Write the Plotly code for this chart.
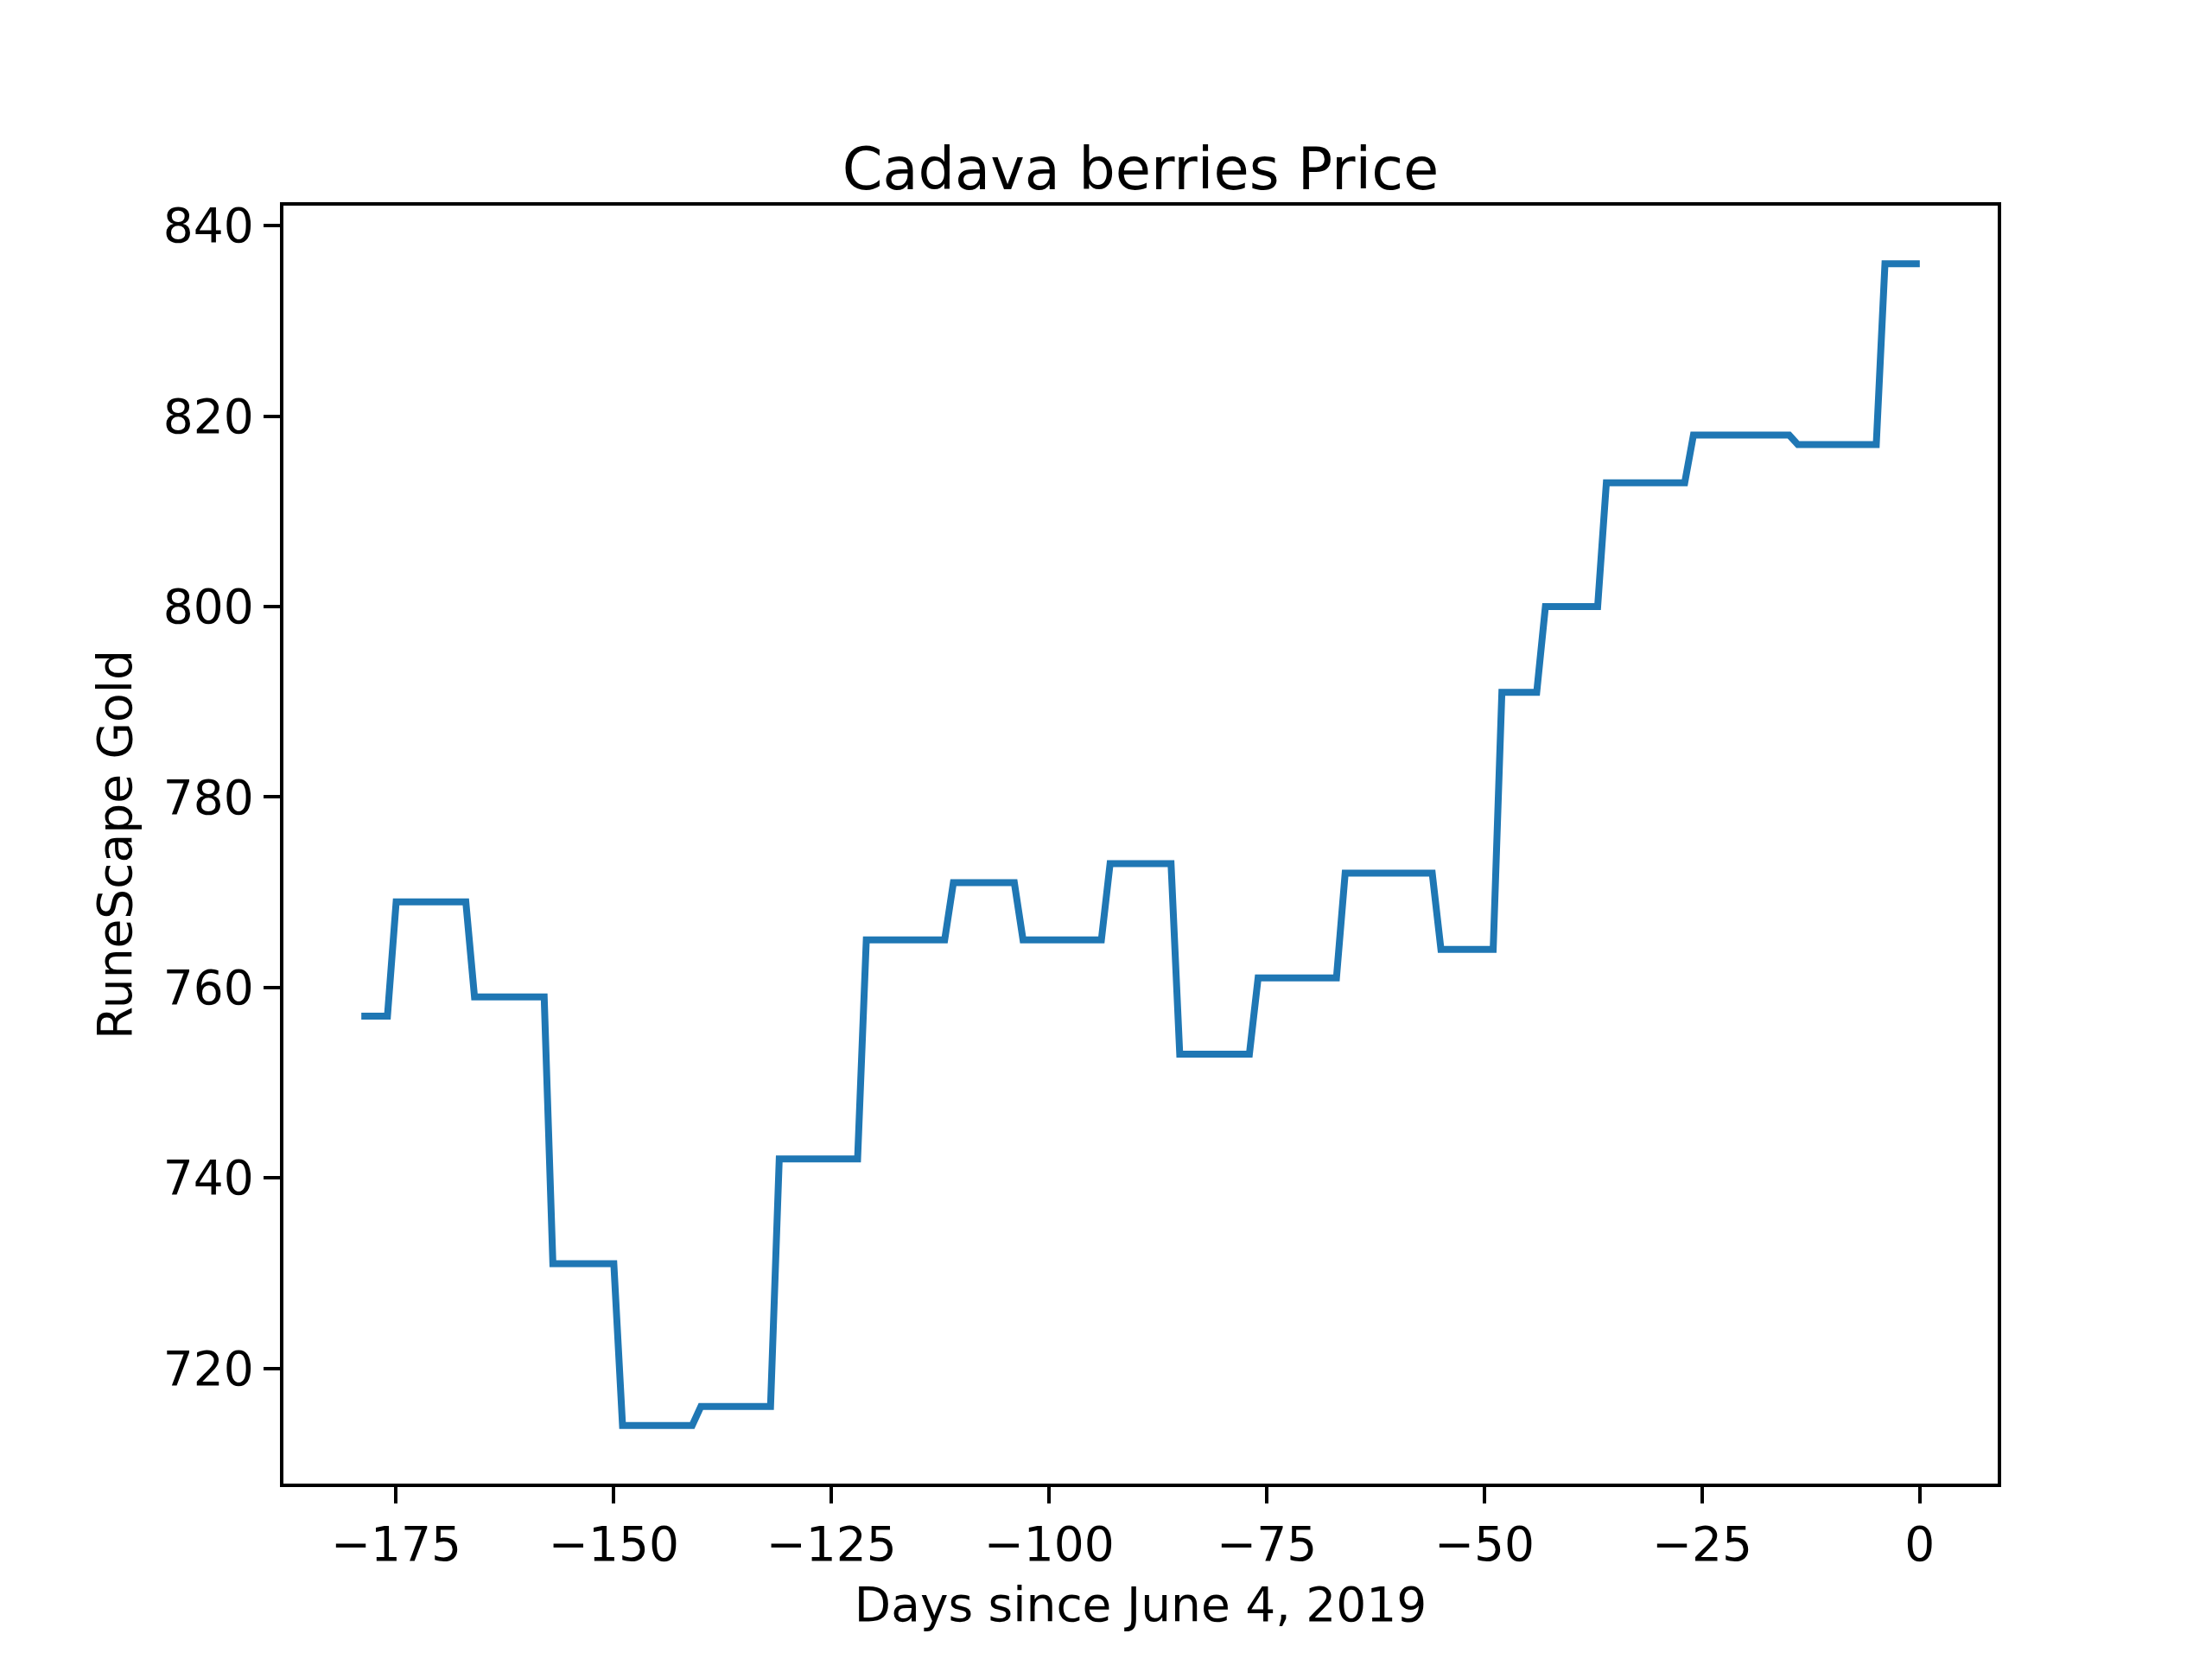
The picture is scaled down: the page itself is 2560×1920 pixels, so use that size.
import plotly.graph_objects as go

# price levels and how many days each level lasted (daily data, day -179 .. 0)
step_prices = [757, 769, 759, 731, 714, 716, 742, 765, 771, 765, 773,
               753, 761, 772, 764, 791, 800, 813, 818, 817, 836]
step_lengths = [4, 9, 9, 8, 9, 9, 10, 10, 8, 10, 8,
                9, 10, 11, 7, 5, 7, 10, 12, 10, 5]

prices = []
for p, n in zip(step_prices, step_lengths):
    prices += [p] * n
days = list(range(-len(prices) + 1, 1))

W, H = 2560, 1920
fig = go.Figure(go.Scatter(x=days, y=prices, mode="lines",
                           line=dict(color="#1f77b4", width=8)))

axis = dict(showgrid=False, zeroline=False, showline=True, mirror=True,
            linecolor="black", linewidth=4.4, ticks="outside", ticklen=19,
            tickwidth=4.4, tickcolor="black", tickfont=dict(size=55))
fig.update_xaxes(axis, range=[-187.95, 8.95], tickvals=[-175, -150, -125, -100, -75, -50, -25, 0],
                 ticktext=["\u2212175", "\u2212150", "\u2212125", "\u2212100", "\u221275", "\u221250", "\u221225", "0"],
                 title=dict(text="Days since June 4, 2019", font=dict(size=55), standoff=20))
fig.update_yaxes(axis, range=[707.9, 842.1], tickvals=[720, 740, 760, 780, 800, 820, 840],
                 title=dict(text="RuneScape Gold", font=dict(size=55), standoff=20))
fig.update_layout(
    width=W, height=H, plot_bgcolor="white", paper_bgcolor="white",
    font=dict(family="DejaVu Sans", color="black"),
    title=dict(text="Cadava berries Price", font=dict(size=67), x=0.5125, xanchor="center",
               y=1 - 0.12 + 0.012, yref="paper", yanchor="bottom"),
    margin=dict(l=int(0.125 * W), r=int(0.1 * W), t=int(0.12 * H), b=int(0.11 * H)),
    showlegend=False,
)
fig.update_layout(title=dict(yref="container", y=0.89, yanchor="bottom"))
fig.write_html("out.html")
